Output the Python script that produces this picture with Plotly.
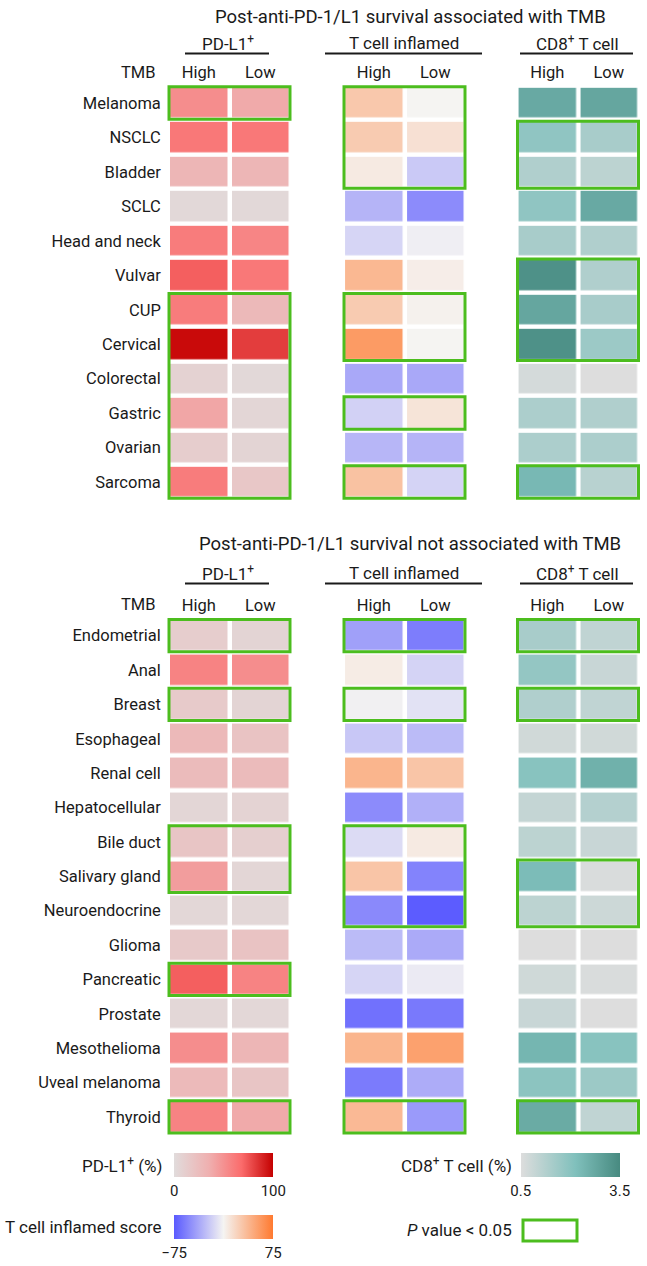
import plotly.graph_objects as go

W, H = 647, 1266

# ---- categories ----
tmb = ["High", "Low"]
top_rows = ["Melanoma", "NSCLC", "Bladder", "SCLC", "Head and neck", "Vulvar",
            "CUP", "Cervical", "Colorectal", "Gastric", "Ovarian", "Sarcoma"]
bottom_rows = ["Endometrial", "Anal", "Breast", "Esophageal", "Renal cell",
               "Hepatocellular", "Bile duct", "Salivary gland", "Neuroendocrine",
               "Glioma", "Pancreatic", "Prostate", "Mesothelioma",
               "Uveal melanoma", "Thyroid"]

# ---- PD-L1+ (%) ----
top_pdl1_high = [52, 62, 30, 3, 60, 72, 60, 97, 8, 40, 12, 60]
top_pdl1_low = [38, 62, 30, 3, 56, 62, 28, 82, 3, 5, 6, 17]
bot_pdl1_high = [12, 57, 14, 28, 26, 5, 18, 44, 4, 15, 72, 4, 52, 27, 57]
bot_pdl1_low = [6, 52, 6, 20, 26, 7, 10, 5, 4, 20, 57, 4, 30, 18, 38]

# ---- T cell inflamed score ----
top_tcell_high = [27, 25, 6, -31, -15, 37, 25, 55, -37, -17, -30, 31]
top_tcell_low = [0, 12, -21, -51, -3, 4, 2, 0, -37, 10, -31, -16]
bot_tcell_high = [-41, 5, -2, -22, 39, -51, -12, 29, -52, -28, -15, -64, 39, -59, 36]
bot_tcell_low = [-58, -16, -9, -28, 29, -33, 6, -55, -74, -36, -5, -60, 51, -35, -44]

# ---- CD8+ T cell (%) ----
top_cd8_high = [2.72, 1.87, 1.30, 1.87, 1.44, 3.33, 2.80, 3.33, 0.66, 1.37, 1.37, 2.34]
top_cd8_low = [2.80, 1.44, 1.09, 2.72, 1.30, 1.30, 1.44, 1.66, 0.50, 1.30, 1.37, 1.15]
bot_cd8_high = [1.44, 1.79, 1.30, 0.73, 2.00, 0.94, 1.09, 2.24, 1.09, 0.50, 0.75, 0.87, 2.40, 1.93, 2.68]
bot_cd8_low = [1.01, 0.87, 1.01, 0.73, 2.53, 1.22, 0.87, 0.57, 0.80, 0.50, 0.57, 0.50, 2.00, 1.66, 1.01]

# ---- P < 0.05 flags ----
top_pdl1_sig = [1, 0, 0, 0, 0, 0, 1, 1, 1, 1, 1, 1]
top_tcell_sig = [1, 1, 1, 0, 0, 0, 1, 1, 0, 1, 0, 1]
top_cd8_sig = [0, 1, 1, 0, 0, 1, 1, 1, 0, 0, 0, 1]
bot_pdl1_sig = [1, 0, 1, 0, 0, 0, 1, 1, 0, 0, 1, 0, 0, 0, 1]
bot_tcell_sig = [1, 0, 1, 0, 0, 0, 1, 1, 1, 0, 0, 0, 0, 0, 1]
bot_cd8_sig = [1, 0, 1, 0, 0, 0, 0, 1, 1, 0, 0, 0, 0, 0, 1]

pdl1_scale = [[0, "#e1dcdc"], [0.35, "#efb0b0"], [0.68, "#fb6c6c"], [1, "#c40000"]]
tcell_scale = [[0, "#5a5aff"], [0.5, "#f5f4f2"], [1, "#ff7a30"]]
cd8_scale = [[0, "#dddddd"], [0.55, "#80c0bc"], [1, "#478a80"]]

FONT = "Roboto"
TXT = "#1a1a1a"
GREEN = "#4cbd1e"
FS = 16.5

groups = [
    dict(name="PD-L1<sup>+</sup>", left=168.0, scale=pdl1_scale, zmin=0, zmax=100,
         ul=(185, 269), cx=227.5),
    dict(name="T cell inflamed", left=343.0, scale=tcell_scale, zmin=-75, zmax=75,
         ul=(325, 482), cx=404),
    dict(name="CD8<sup>+</sup> T cell", left=516.5, scale=cd8_scale, zmin=0.5, zmax=3.5,
         ul=(520, 633), cx=577),
]

panels = [
    dict(title="Post-anti-PD-1/L1 survival associated with TMB", rows=top_rows,
         top=85.8, pitch=34.45, title_y=17, head_y=43, ul_y=53.5, tmb_y=72.5,
         data=[(top_pdl1_high, top_pdl1_low, top_pdl1_sig),
               (top_tcell_high, top_tcell_low, top_tcell_sig),
               (top_cd8_high, top_cd8_low, top_cd8_sig)]),
    dict(title="Post-anti-PD-1/L1 survival not associated with TMB", rows=bottom_rows,
         top=618.5, pitch=34.37, title_y=544, head_y=573, ul_y=583.5, tmb_y=604,
         data=[(bot_pdl1_high, bot_pdl1_low, bot_pdl1_sig),
               (bot_tcell_high, bot_tcell_low, bot_tcell_sig),
               (bot_cd8_high, bot_cd8_low, bot_cd8_sig)]),
]

colorbars = [
    dict(x=174.3, y=1153.3, tickvals=[0, 100], ticktext=["0", "100"]),
    dict(x=174.3, y=1215.0, tickvals=[-75, 75], ticktext=["\u221275", "75"]),
    dict(x=520.7, y=1153.3, tickvals=[0.5, 3.5], ticktext=["0.5", "3.5"]),
]

COL_W = 61.5
PAD = 0.1

fig = go.Figure()
layout = {}
shapes = []
annotations = []


def ax_name(kind, k):
    return kind if k == 1 else f"{kind}{k}"


for p, panel in enumerate(panels):
    rows = panel["rows"]
    n = len(rows)
    pitch = panel["pitch"]
    for g, grp in enumerate(groups):
        k = p * 3 + g + 1
        hi, lo, sig = panel["data"][g]
        z = [[a, b] for a, b in zip(hi, lo)]

        x0 = grp["left"] - PAD * COL_W
        x1 = grp["left"] + 2 * COL_W + PAD * COL_W
        y0 = panel["top"] - PAD * pitch
        y1 = panel["top"] + n * pitch + PAD * pitch

        cb = colorbars[g]
        fig.add_trace(go.Heatmap(
            x=tmb, y=rows, z=z,
            xaxis=ax_name("x", k), yaxis=ax_name("y", k),
            colorscale=grp["scale"], zmin=grp["zmin"], zmax=grp["zmax"],
            xgap=4.5, ygap=4.5, hoverinfo="skip",
            showscale=(p == 0),
            colorbar=dict(orientation="h", x=cb["x"] / W, xanchor="left",
                          y=1 - cb["y"] / H, yanchor="top",
                          lenmode="pixels", len=99, thickness=24,
                          xpad=0, ypad=0, outlinewidth=0, ticks="",
                          tickvals=cb["tickvals"], ticktext=cb["ticktext"],
                          tickfont=dict(family=FONT, size=15, color=TXT)),
        ))

        layout[ax_name("xaxis", k)] = dict(
            domain=[x0 / W, x1 / W], anchor=ax_name("y", k), side="top",
            type="category", categoryorder="array", categoryarray=tmb,
            range=[-0.5 - PAD, 1.5 + PAD], showgrid=False, zeroline=False,
            showline=False, ticks="", fixedrange=True,
            tickfont=dict(family=FONT, size=FS, color=TXT))
        layout[ax_name("yaxis", k)] = dict(
            domain=[1 - y1 / H, 1 - y0 / H], anchor=ax_name("x", k),
            type="category", categoryorder="array", categoryarray=rows,
            range=[n - 0.5 + PAD, -0.5 - PAD], showgrid=False, zeroline=False,
            showline=False, ticks="", fixedrange=True, showticklabels=(g == 0),
            tickfont=dict(family=FONT, size=FS, color=TXT))

        # green boxes around runs of significant rows
        dx = 1.0 / COL_W
        dy = 1.0 / pitch
        i = 0
        while i < n:
            if sig[i]:
                j = i
                while j + 1 < n and sig[j + 1]:
                    j += 1
                shapes.append(dict(
                    type="rect", xref=ax_name("x", k), yref=ax_name("y", k),
                    x0=-0.5 + dx, x1=1.5 - dx, y0=i - 0.5 + dy, y1=j + 0.5 - dy,
                    line=dict(color=GREEN, width=3), fillcolor="rgba(0,0,0,0)",
                    layer="above"))
                i = j + 1
            else:
                i += 1

        # group header and underline
        annotations.append(dict(
            text=grp["name"], x=grp["cx"] / W, y=1 - panel["head_y"] / H,
            xref="paper", yref="paper", xanchor="center", yanchor="middle",
            showarrow=False, font=dict(family=FONT, size=17, color=TXT)))
        shapes.append(dict(
            type="line", xref="paper", yref="paper",
            x0=grp["ul"][0] / W, x1=grp["ul"][1] / W,
            y0=1 - panel["ul_y"] / H, y1=1 - panel["ul_y"] / H,
            line=dict(color=TXT, width=2)))

    annotations.append(dict(
        text=panel["title"], x=410 / W, y=1 - panel["title_y"] / H,
        xref="paper", yref="paper", xanchor="center", yanchor="middle",
        showarrow=False, font=dict(family=FONT, size=18.5, color=TXT)))
    annotations.append(dict(
        text="TMB", x=158 / W, y=1 - panel["tmb_y"] / H,
        xref="paper", yref="paper", xanchor="right", yanchor="middle",
        showarrow=False, font=dict(family=FONT, size=FS, color=TXT)))

# legend labels
legend_labels = [
    ("PD-L1<sup>+</sup> (%)", 164, 1165),
    ("T cell inflamed score", 164, 1227),
    ("CD8<sup>+</sup> T cell (%)", 514, 1165),
    ("<i>P</i> value &lt; 0.05", 514, 1230),
]
for text, xr, yc in legend_labels:
    annotations.append(dict(
        text=text, x=xr / W, y=1 - yc / H, xref="paper", yref="paper",
        xanchor="right", yanchor="middle", showarrow=False,
        font=dict(family=FONT, size=17, color=TXT)))

shapes.append(dict(
    type="rect", xref="paper", yref="paper",
    x0=523 / W, x1=577 / W, y0=1 - 1241 / H, y1=1 - 1220 / H,
    line=dict(color=GREEN, width=3), fillcolor="rgba(0,0,0,0)"))

fig.update_layout(
    width=W, height=H,
    margin=dict(l=0, r=0, t=0, b=0),
    paper_bgcolor="white", plot_bgcolor="white",
    font=dict(family=FONT, size=FS, color=TXT),
    shapes=shapes, annotations=annotations,
    **layout,
)

# drop the browser's default page margin so the figure sits at the top-left corner
fig.write_html("out.html", config={"displayModeBar": False},
               post_script="document.body.style.margin='0px';")
